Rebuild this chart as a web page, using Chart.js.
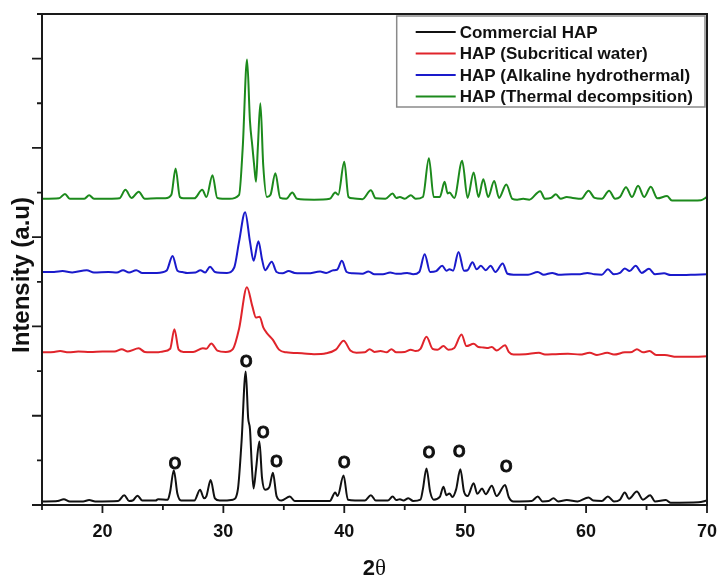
<!DOCTYPE html>
<html>
<head>
<meta charset="utf-8">
<script src="https://cdn.jsdelivr.net/npm/chart.js@4.4.1/dist/chart.umd.min.js"></script>
<style>
  body { margin: 0; background: #fff; }
  canvas { display: block; }
</style>
</head>
<body>
<canvas id="xrd" width="717" height="577"></canvas>
<script>
// [2theta, intensity], curves already stacked with their offset
const commercial = [
  [15,0.08],[16.3,0.09],[16.8,0.13],[17.3,0.08],[18.4,0.08],[18.9,0.11],[19.4,0.08],[21.3,0.09],[21.8,0.22],[22.2,0.09],
  [22.5,0.10],[22.9,0.21],[23.3,0.10],[24.4,0.10],[24.6,0.13],[25.4,0.12],[25.6,0.30],[25.9,0.78],[26.2,0.25],[26.5,0.10],
  [27.6,0.10],[28.07,0.34],[28.4,0.15],[28.6,0.20],[28.95,0.56],[29.3,0.15],[29.7,0.10],[30.8,0.12],[31.2,0.35],[31.5,1.40],
  [31.85,2.99],[32.05,1.95],[32.2,1.70],[32.35,0.90],[32.5,0.37],[32.7,0.80],[32.98,1.42],[33.2,0.60],[33.45,0.34],[33.8,0.40],
  [34.1,0.72],[34.4,0.20],[34.8,0.10],[35.5,0.19],[35.9,0.09],[38.8,0.09],[39.25,0.28],[39.45,0.20],[39.94,0.66],[40.3,0.12],
  [41.7,0.10],[42.2,0.22],[42.6,0.10],[43.6,0.10],[44.0,0.19],[44.3,0.11],[44.6,0.13],[44.9,0.10],[45.3,0.15],[45.7,0.09],
  [46.3,0.12],[46.5,0.35],[46.8,0.82],[47.1,0.30],[47.4,0.12],[47.9,0.18],[48.2,0.41],[48.45,0.22],[48.7,0.26],[48.95,0.18],
  [49.25,0.35],[49.6,0.80],[49.9,0.30],[50.2,0.20],[50.7,0.49],[51.0,0.25],[51.4,0.37],[51.7,0.24],[52.2,0.43],[52.6,0.20],
  [53.3,0.45],[53.6,0.18],[54.0,0.08],[55.5,0.09],[56.0,0.19],[56.4,0.08],[56.9,0.09],[57.3,0.15],[57.7,0.08],[58.4,0.11],
  [59.3,0.08],[60.2,0.17],[60.6,0.10],[61.3,0.09],[61.8,0.19],[62.3,0.08],[62.8,0.12],[63.2,0.28],[63.55,0.14],[64.2,0.30],
  [64.7,0.12],[65.3,0.22],[65.7,0.08],[66.6,0.11],[67.0,0.05],[69.3,0.06],[70,0.10]
];
const subcritical = [
  [15,3.42],[16,3.43],[16.5,3.45],[17.2,3.42],[18,3.44],[19,3.43],[20,3.44],[21,3.44],[21.6,3.49],[22.1,3.44],
  [23.0,3.51],[23.5,3.43],[24.5,3.42],[25.0,3.44],[25.6,3.50],[25.95,3.94],[26.3,3.48],[26.7,3.43],[27.5,3.43],[28.3,3.51],
  [28.6,3.50],[29.0,3.62],[29.5,3.46],[30.2,3.43],[30.8,3.50],[31.3,3.95],[31.95,4.88],[32.4,4.45],[32.7,4.20],[33.0,4.22],
  [33.3,3.98],[33.6,3.85],[34.1,3.70],[34.6,3.48],[35.2,3.42],[36.5,3.40],[37.5,3.38],[38.5,3.40],[39.3,3.48],[39.95,3.68],
  [40.5,3.46],[41,3.41],[41.7,3.42],[42.1,3.49],[42.5,3.43],[43.0,3.45],[43.5,3.42],[43.9,3.49],[44.3,3.42],[45.0,3.43],
  [45.5,3.48],[45.9,3.45],[46.3,3.50],[46.8,3.77],[47.3,3.50],[47.7,3.48],[48.2,3.56],[48.6,3.48],[49.1,3.52],[49.7,3.82],
  [50.1,3.56],[50.7,3.61],[51.1,3.54],[51.5,3.53],[51.9,3.52],[52.2,3.54],[52.6,3.46],[53.3,3.58],[53.6,3.43],[54.0,3.37],
  [55.0,3.38],[56.1,3.41],[56.6,3.37],[57.5,3.38],[58.5,3.39],[59.5,3.37],[60.3,3.41],[60.9,3.36],[61.75,3.41],[62.3,3.37],
  [63.2,3.42],[63.8,3.43],[64.2,3.49],[64.7,3.42],[65.25,3.45],[65.8,3.36],[66.5,3.36],[67.5,3.32],[69,3.32],[70,3.33]
];
const alkaline = [
  [15,5.22],[16,5.22],[16.7,5.24],[17.5,5.21],[18.7,5.26],[19.3,5.21],[20.5,5.22],[21.2,5.21],[21.7,5.26],[22.2,5.21],
  [22.8,5.26],[23.3,5.20],[24.5,5.20],[25.3,5.25],[25.8,5.58],[26.2,5.25],[26.6,5.22],[27.0,5.20],[27.7,5.21],[28.1,5.26],
  [28.5,5.21],[28.9,5.34],[29.3,5.22],[30.3,5.20],[30.9,5.32],[31.3,5.90],[31.8,6.56],[32.2,5.90],[32.5,5.47],[32.9,5.91],
  [33.2,5.50],[33.45,5.26],[34.0,5.45],[34.4,5.22],[34.9,5.19],[35.4,5.24],[35.9,5.20],[37,5.19],[38.0,5.23],[38.5,5.20],
  [39.1,5.26],[39.4,5.27],[39.8,5.47],[40.2,5.22],[40.7,5.19],[41.5,5.18],[42.0,5.23],[42.5,5.17],[43.2,5.17],[43.8,5.21],
  [44.3,5.18],[44.7,5.18],[45.2,5.20],[45.7,5.17],[46.2,5.22],[46.65,5.62],[47.1,5.22],[47.6,5.24],[48.1,5.36],[48.45,5.25],
  [48.7,5.28],[49.0,5.25],[49.45,5.67],[49.9,5.25],[50.2,5.26],[50.6,5.44],[50.95,5.28],[51.3,5.36],[51.7,5.26],[52.1,5.36],
  [52.5,5.22],[53.1,5.41],[53.5,5.18],[54,5.16],[55.2,5.16],[56.0,5.22],[56.5,5.16],[57.2,5.20],[57.7,5.16],[58.8,5.17],
  [59.5,5.17],[60.1,5.20],[60.7,5.17],[61.3,5.16],[61.8,5.28],[62.3,5.17],[62.8,5.20],[63.2,5.30],[63.6,5.24],[64.1,5.36],
  [64.6,5.20],[65.2,5.29],[65.7,5.17],[66.45,5.19],[67,5.15],[68,5.15],[69,5.16],[70,5.17]
];
const thermal = [
  [15,6.86],[16.4,6.87],[16.9,6.97],[17.3,6.86],[18.5,6.86],[18.9,6.94],[19.3,6.86],[20.5,6.86],[21.4,6.87],[21.9,7.06],
  [22.4,6.88],[23.0,7.02],[23.5,6.86],[24.5,6.87],[25.2,6.87],[25.7,6.95],[26.05,7.54],[26.4,6.90],[26.7,6.87],[27.6,6.87],
  [28.25,7.06],[28.6,6.90],[29.1,7.39],[29.5,6.88],[30.5,6.86],[31.3,6.95],[31.6,8.00],[31.96,9.98],[32.2,8.60],[32.4,8.03],
  [32.55,7.60],[32.7,7.24],[32.85,8.00],[33.06,9.00],[33.3,7.60],[33.6,6.90],[33.9,6.95],[34.3,7.43],[34.7,6.88],[35.2,6.86],
  [35.7,7.00],[36.1,6.86],[37.5,6.84],[38.8,6.86],[39.25,7.00],[39.5,6.95],[40.0,7.69],[40.35,6.90],[40.7,6.87],[41.5,6.85],
  [42.2,7.05],[42.6,6.87],[43.4,6.86],[44.0,6.98],[44.3,6.88],[44.6,6.90],[45.0,6.86],[45.5,6.94],[45.9,6.86],[46.5,6.90],
  [47.0,7.77],[47.4,6.90],[47.9,6.90],[48.3,7.24],[48.55,6.98],[48.7,7.00],[49.1,6.88],[49.75,7.71],[50.2,6.88],[50.7,7.45],
  [51.1,6.90],[51.5,7.30],[51.9,6.90],[52.4,7.26],[52.8,6.88],[53.4,7.18],[53.9,6.86],[54.3,6.84],[54.8,6.86],[55.3,6.84],
  [56.2,7.03],[56.6,6.86],[57.1,6.88],[57.5,6.96],[57.9,6.86],[58.4,6.90],[58.9,6.88],[59.6,6.86],[60.2,7.04],[60.7,6.88],
  [61.3,6.86],[61.9,7.04],[62.4,6.86],[62.8,6.90],[63.3,7.12],[63.8,6.90],[64.3,7.15],[64.8,6.90],[65.35,7.13],[65.9,6.87],
  [66.7,6.92],[67.1,6.82],[68,6.82],[69.5,6.83],[70,6.90]
];

const seriesNames = ['Commercial HAP', 'HAP (Subcritical water)', 'HAP (Alkaline hydrothermal)', 'HAP (Thermal decompsition)'];
const seriesColors = ['#111111', '#e0242b', '#1a1acb', '#1c8a1c'];

// "O" marks over the commercial HAP reflections
const markX = [26.0, 31.9, 33.3, 34.4, 40.0, 47.0, 49.5, 53.4];
const markY = [0.95, 3.23, 1.64, 0.99, 0.97, 1.18, 1.22, 0.87];

const xTickValues = [15, 20, 25, 30, 35, 40, 45, 50, 55, 60, 65, 70];
const xTickLabels = [20, 30, 40, 50, 60, 70];
const yTickValues = [0, 1, 2, 3, 4, 5, 6, 7, 8, 9, 10, 11];

const SANS = '"Liberation Sans", Arial, sans-serif';

var decor = {
    id: 'decor',
    afterDraw: function(chart) {
        const ctx = chart.ctx;
        const a = chart.chartArea;
        const xs = chart.scales.x, ys = chart.scales.y;
        ctx.save();
        ctx.strokeStyle = '#1a1a1a';
        ctx.lineWidth = 2;
        ctx.strokeRect(a.left, a.top, a.right - a.left, a.bottom - a.top);

        // ticks, outward
        ctx.lineWidth = 1.8;
        ctx.beginPath();
        xTickValues.forEach(function(v) {
            const px = xs.getPixelForValue(v);
            const len = v % 10 === 0 ? 8 : 5;
            ctx.moveTo(px, a.bottom);
            ctx.lineTo(px, a.bottom + len);
        });
        yTickValues.forEach(function(v) {
            const py = ys.getPixelForValue(v);
            const len = v % 2 === 0 ? 10 : 5;
            ctx.moveTo(a.left, py);
            ctx.lineTo(a.left - len, py);
        });
        ctx.stroke();

        ctx.fillStyle = '#111';
        ctx.font = 'bold 18px ' + SANS;
        ctx.textAlign = 'center';
        ctx.textBaseline = 'alphabetic';
        xTickLabels.forEach(function(v) {
            ctx.fillText(String(v), xs.getPixelForValue(v), a.bottom + 32);
        });

        // axis titles
        const mid = (a.left + a.right) / 2;
        ctx.font = 'bold 22px ' + SANS;
        const w2 = ctx.measureText('2').width;
        ctx.font = '23px "Liberation Serif", serif';
        const wt = ctx.measureText('θ').width;
        ctx.textAlign = 'left';
        ctx.font = 'bold 22px ' + SANS;
        ctx.fillText('2', mid - (w2 + wt) / 2, 575);
        ctx.font = '23px "Liberation Serif", serif';
        ctx.fillText('θ', mid - (w2 + wt) / 2 + w2, 575);

        ctx.save();
        ctx.translate(29, 275);
        ctx.rotate(-Math.PI / 2);
        ctx.textAlign = 'center';
        ctx.font = 'bold 24px ' + SANS;
        ctx.fillText('Intensity (a.u)', 0, 0);
        ctx.restore();

        // O marks
        ctx.font = 'bold 16px ' + SANS;
        ctx.textAlign = 'center';
        ctx.strokeStyle = '#111';
        ctx.lineWidth = 0.9;
        for (let i = 0; i < markX.length; i++) {
            const ox = xs.getPixelForValue(markX[i]);
            const oy = ys.getPixelForValue(markY[i]) + 6;
            ctx.fillText('O', ox, oy);
            ctx.strokeText('O', ox, oy);
        }

        // legend box
        ctx.font = 'bold 17px ' + SANS;
        let tw = 0;
        chart.data.datasets.forEach(function(d) { tw = Math.max(tw, ctx.measureText(d.label).width); });
        const boxW = 63 + tw + 12, boxH = 91;
        const bx = a.right - 2 - boxW, by = a.top + 2;
        ctx.fillStyle = '#fff';
        ctx.fillRect(bx, by, boxW, boxH);
        ctx.strokeStyle = '#8a8a8a';
        ctx.lineWidth = 1.5;
        ctx.strokeRect(bx, by, boxW, boxH);
        ctx.textAlign = 'left';
        ctx.textBaseline = 'middle';
        chart.data.datasets.forEach(function(d, i) {
            const ry = by + 16 + i * 21.5;
            ctx.strokeStyle = d.borderColor;
            ctx.lineWidth = 2;
            ctx.beginPath();
            ctx.moveTo(bx + 19, ry);
            ctx.lineTo(bx + 59, ry);
            ctx.stroke();
            ctx.fillStyle = '#111';
            ctx.fillText(d.label, bx + 63, ry + 1);
        });
        ctx.restore();
    }
};

function toPoints(arr) {
    return arr.map(function(p) { return {x: p[0], y: p[1]}; });
}

const allSeries = [commercial, subcritical, alkaline, thermal];

var xrdChart = new Chart(document.getElementById('xrd').getContext('2d'), {
    type: 'line',
    data: {
        datasets: allSeries.map(function(s, i) {
            return {
                label: seriesNames[i],
                data: toPoints(s),
                borderColor: seriesColors[i],
                borderWidth: 2,
                pointRadius: 0,
                fill: false,
                cubicInterpolationMode: 'monotone'
            };
        })
    },
    options: {
        responsive: false,
        animation: false,
        layout: { padding: { left: 42, right: 10, top: 14, bottom: 72 } },
        plugins: { legend: { display: false }, tooltip: { enabled: false } },
        scales: {
            x: { type: 'linear', min: 15, max: 70, display: false },
            y: { type: 'linear', min: 0, max: 11, display: false }
        }
    },
    plugins: [decor]
});
</script>
</body>
</html>
